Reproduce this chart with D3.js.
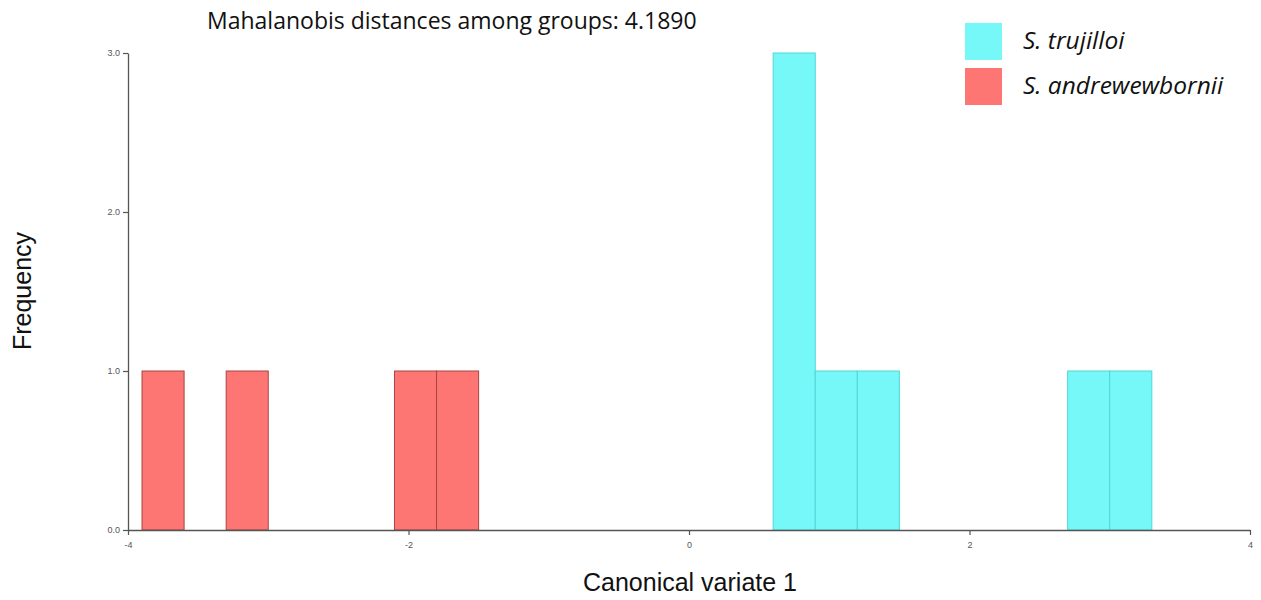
<!DOCTYPE html>
<html>
<head>
<meta charset="utf-8">
<script src="https://cdn.jsdelivr.net/npm/d3@7"></script>
<style>
  html, body { margin: 0; padding: 0; background: #fff; }
  svg { display: block; }
</style>
</head>
<body>
<svg id="chart" width="1261" height="600"></svg>
<script>
// Histogram bins of canonical variate 1 (bin width 0.3)
const trujilloiBinStart = [0.6, 0.9, 1.2, 2.7, 3.0];
const trujilloiCounts   = [3, 1, 1, 1, 1];
const andrewBinStart    = [-3.9, -3.3, -2.1, -1.8];
const andrewCounts      = [1, 1, 1, 1];
const binWidth = 0.3;

const xTicks = [-4, -2, 0, 2, 4];
const yTicks = [0, 1, 2, 3];

const speciesNames = ["S. trujilloi", "S. andrewewbornii"];
const speciesFill   = ["#76f8f8", "#fd7673"];
const speciesStroke = ["#4fd6d6", "#a84442"];

const titleText = "Mahalanobis distances among groups: 4.1890";
const xLabel = "Canonical variate 1";
const yLabel = "Frequency";

const svg = d3.select("#chart");

const x = d3.scaleLinear().domain([-4, 4]).range([128, 1250]);
const y = d3.scaleLinear().domain([0, 3]).range([530, 53]);

const groups = [
  { name: speciesNames[0], starts: trujilloiBinStart, counts: trujilloiCounts, fill: speciesFill[0], stroke: speciesStroke[0] },
  { name: speciesNames[1], starts: andrewBinStart, counts: andrewCounts, fill: speciesFill[1], stroke: speciesStroke[1] }
];

// bars
groups.forEach(g => {
  svg.append("g").selectAll("rect")
    .data(g.starts.map((s, i) => ({ s, c: g.counts[i] })))
    .join("rect")
    .attr("x", d => x(d.s))
    .attr("y", d => y(d.c))
    .attr("width", d => x(d.s + binWidth) - x(d.s))
    .attr("height", d => y(0) - y(d.c))
    .attr("fill", g.fill)
    .attr("stroke", g.stroke)
    .attr("stroke-width", 1);
});

// axes (plain hyphen for negative labels)
const hyphenInt = d => String(d);
const xAxis = svg.append("g")
  .attr("transform", `translate(0,${y(0)})`)
  .call(d3.axisBottom(x).tickValues(xTicks).tickSize(5).tickSizeOuter(0).tickFormat(hyphenInt));
const yAxis = svg.append("g")
  .attr("transform", `translate(${x(-4)},0)`)
  .call(d3.axisLeft(y).tickValues(yTicks).tickSize(5).tickSizeOuter(0).tickFormat(d => d.toFixed(1)));

[xAxis, yAxis].forEach(a => {
  a.select(".domain").attr("stroke", "#555").attr("stroke-width", 1.3);
  a.selectAll(".tick line").attr("stroke", "#555").attr("stroke-width", 1.2);
  a.selectAll(".tick text")
    .attr("fill", "#555")
    .style("font-family", "'Liberation Sans', Arial, sans-serif")
    .style("font-size", "9px");
});
xAxis.selectAll(".tick text").attr("dy", "1.1em");

// title
svg.append("text")
  .attr("x", 207).attr("y", 29)
  .style("font-family", "'Open Sans', sans-serif")
  .style("font-size", "23px")
  .attr("fill", "#111")
  .text(titleText);

// axis labels
svg.append("text")
  .attr("x", 690).attr("y", 591)
  .attr("text-anchor", "middle")
  .style("font-family", "'Liberation Sans', Arial, sans-serif")
  .style("font-size", "25px")
  .attr("fill", "#111")
  .text(xLabel);

svg.append("text")
  .attr("transform", "translate(31,291) rotate(-90)")
  .attr("text-anchor", "middle")
  .style("font-family", "'Liberation Sans', Arial, sans-serif")
  .style("font-size", "25px")
  .attr("fill", "#111")
  .text(yLabel);

// legend
const legend = svg.append("g");
groups.forEach((g, i) => {
  const row = legend.append("g").attr("transform", `translate(965,${23 + i * 45})`);
  row.append("rect")
    .attr("width", 37).attr("height", 37)
    .attr("fill", g.fill);
  row.append("text")
    .attr("x", 58).attr("y", 26)
    .style("font-family", "'Open Sans', sans-serif")
    .style("font-style", "italic")
    .style("font-size", "24.5px")
    .attr("fill", "#111")
    .text(g.name);
});
</script>
</body>
</html>
